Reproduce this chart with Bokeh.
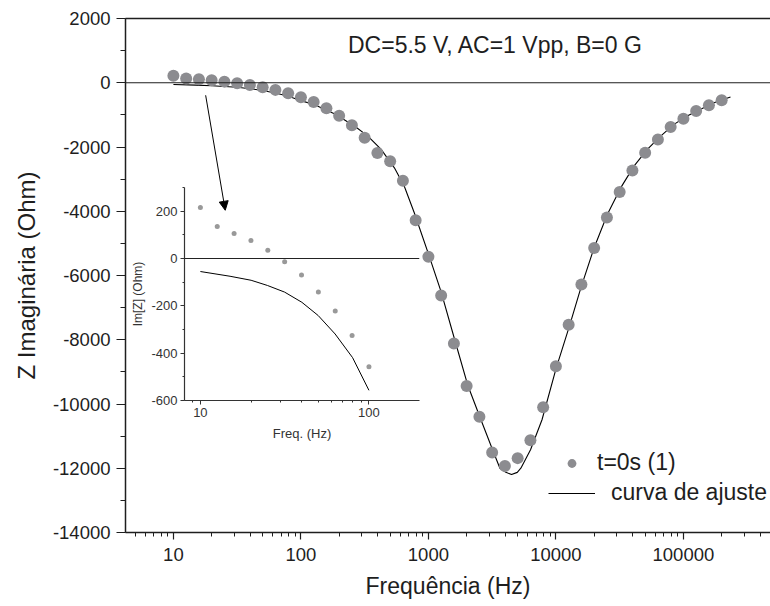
from bokeh.plotting import figure
from bokeh.models import (Range1d, Span, Label, Arrow, NormalHead, Legend, LegendItem,
                          LogAxis, FixedTicker, LogTicker, SingleIntervalTicker,
                          NumeralTickFormatter, Title)
from bokeh.embed import file_html
from bokeh.resources import INLINE

FONT = "Liberation Sans"
INK = "#1e1e1e"

# ---------------- data (main plot) ----------------
freq = [10, 12.59, 15.85, 19.95, 25.12, 31.62, 39.81, 50.12, 63.1, 79.43,
        100, 125.9, 158.5, 199.5, 251.2, 316.2, 398.1, 501.2, 631, 794.3,
        1000, 1259, 1585, 1995, 2512, 3162, 3981, 5012, 6310, 7943,
        10000, 12589, 15849, 19953, 25119, 31623, 39811, 50119, 63096, 79433,
        100000, 125893, 158489, 199526]
z_imag = [215, 135, 106, 76, 35, -14, -70, -142, -222, -325,
          -455, -599, -796, -1027, -1326, -1713, -2190, -2440, -3048, -4281,
          -5413, -6621, -8119, -9438, -10396, -11510, -11931, -11685, -11129, -10103,
          -8827, -7532, -6278, -5145, -4197, -3398, -2730, -2181, -1763, -1379,
          -1120, -880, -702, -546]

fit_freq = [10, 15, 20, 31.6, 40, 50, 63, 80, 100, 128,
            183, 263, 335, 426, 541, 647, 776, 1016, 1255, 1596,
            2032, 2582, 3186, 3637, 4053, 4487, 4977, 5309, 6324, 7781,
            10037, 12853, 15670, 19900, 25300, 32200, 40950, 52100, 66300, 84300,
            107000, 136500, 173500, 234000]
fit_z = [-55, -75, -92, -142, -185, -241, -319, -419, -557, -685,
         -964, -1348, -1660, -2075, -2649, -3220, -4053, -5404, -6496, -7953,
         -9407, -10490, -11426, -11999, -12128, -12197, -12128, -11999, -11426, -10490,
         -8889, -7535, -6393, -5145, -4103, -3273, -2596, -2075, -1660, -1295,
         -1036, -827, -621, -443]

main_yticks = [2000, 0, -2000, -4000, -6000, -8000, -10000, -12000, -14000]
main_ylabels = ["2000", "0", "-2000", "-4000", "-6000", "-8000", "-10000", "-12000", "-14000"]

# ---------------- data (inset) ----------------
inset_freq = [10, 12.59, 15.85, 19.95, 25.12, 31.62, 39.81, 50.12, 63.1, 79.43, 100]
inset_z = [215, 135, 106, 76, 35, -14, -70, -142, -222, -325, -457]
inset_fit_freq = [10, 15, 20, 25, 31.6, 40, 50, 63, 80, 100]
inset_fit_z = [-55, -75, -92, -114, -142, -185, -241, -319, -419, -557]

inset_xticks = [10, 100]
inset_xminor = [8, 9, 20, 30, 40, 50, 60, 70, 80, 90, 200]
inset_yticks = [200, 0, -200, -400, -600]
inset_ylabels = ["200", "0", "-200", "-400", "-600"]

annotation_text = "DC=5.5 V, AC=1 Vpp, B=0 G"
annotation_pos = (234, 1179)
arrow_start = (17.9, -390)
arrow_end = (25.5, -3969)

# ---------------- main figure ----------------
p = figure(width=770, height=606, x_axis_type="log",
           x_range=Range1d(4.21, 482000), y_range=Range1d(-14000, 2000),
           output_backend="svg", toolbar_location=None,
           min_border_left=124, min_border_right=0, min_border_top=18,
           min_border_bottom=74, background_fill_color="white",
           border_fill_color="white", outline_line_color=None)
p.title.visible = False
p.grid.visible = False

p.xaxis.ticker = LogTicker(num_minor_ticks=10)
p.xaxis.formatter = NumeralTickFormatter(format="0")
p.yaxis.ticker = SingleIntervalTicker(interval=2000, num_minor_ticks=2)
p.yaxis.major_label_overrides = dict(zip(main_yticks, main_ylabels))

for ax in (p.xaxis[0], p.yaxis[0]):
    ax.axis_line_color = INK
    ax.axis_line_width = 1.5
    ax.major_tick_line_color = INK
    ax.minor_tick_line_color = INK
    ax.major_tick_line_width = 1.2
    ax.minor_tick_line_width = 1.0
    ax.major_tick_in = 0
    ax.minor_tick_in = 0
    ax.major_label_text_font = FONT
    ax.major_label_text_font_size = "18.5px"
    ax.major_label_text_color = INK
p.yaxis.major_tick_out = 9
p.yaxis.minor_tick_out = 5
p.yaxis.major_label_standoff = 6
p.xaxis.major_tick_out = 7
p.xaxis.minor_tick_out = 4
p.xaxis.major_label_standoff = 8

# axis titles (placed with offsets as in the reference)
ytitle = Title(text="Z Imaginária (Ohm)", align="center", offset=-15, standoff=20,
               text_font=FONT, text_font_size="24px", text_font_style="normal",
               text_color=INK)
xtitle = Title(text="Frequência (Hz)", align="center", offset=5, standoff=14,
               text_font=FONT, text_font_size="23px", text_font_style="normal",
               text_color=INK)
p.add_layout(ytitle, "left")
p.add_layout(xtitle, "below")

top_axis = LogAxis(ticker=FixedTicker(ticks=[]), axis_line_color=INK, axis_line_width=1.5,
                   major_tick_line_color=None, minor_tick_line_color=None,
                   major_label_text_font_size="0px")
p.add_layout(top_axis, "above")

p.add_layout(Span(location=0, dimension="width", line_color=INK, line_width=1.2))

ln = p.line(fit_freq, fit_z, line_color="black", line_width=1.1)
sc = p.scatter(freq, z_imag, size=12, fill_color="#8c8c90", line_color=None)

p.add_layout(Arrow(end=NormalHead(size=9, fill_color="black", line_color="black"),
                   x_start=arrow_start[0], y_start=arrow_start[1],
                   x_end=arrow_end[0], y_end=arrow_end[1],
                   line_color="black", line_width=1))

p.add_layout(Label(x=annotation_pos[0], y=annotation_pos[1], text=annotation_text,
                   text_font=FONT, text_font_size="23px", text_color=INK,
                   text_baseline="middle", text_align="left"))

leg_common = dict(padding=0, margin=0, spacing=0, border_line_color=None,
                  background_fill_alpha=0, label_text_font=FONT,
                  label_text_font_size="23px", label_text_color=INK, glyph_width=47)
leg1 = Legend(items=[LegendItem(label="t=0s (1)", renderers=[sc])], location=(423, 56),
              glyph_height=22, label_height=22, label_standoff=2, **leg_common)
leg2 = Legend(items=[LegendItem(label="curva de ajuste", renderers=[ln])], location=(423, 26),
              glyph_height=24, label_height=24, label_standoff=16, **leg_common)
p.add_layout(leg1)
p.add_layout(leg2)

# ---------------- inset figure ----------------
inset = figure(width=296, height=263, x_axis_type="log",
               x_range=Range1d(8.05, 199.5), y_range=Range1d(-600, 300),
               output_backend="svg", toolbar_location=None,
               min_border_left=54, min_border_right=5, min_border_top=5,
               min_border_bottom=45, background_fill_alpha=0, border_fill_alpha=0,
               outline_line_color=None)
inset.title.visible = False
inset.grid.visible = False
inset.xaxis.ticker = FixedTicker(ticks=inset_xticks, minor_ticks=inset_xminor)
inset.xaxis.formatter = NumeralTickFormatter(format="0")
inset.yaxis.ticker = SingleIntervalTicker(interval=200, num_minor_ticks=2)
inset.yaxis.major_label_overrides = dict(zip(inset_yticks, inset_ylabels))
for ax in (inset.xaxis[0], inset.yaxis[0]):
    ax.axis_line_color = "#333333"
    ax.axis_line_width = 1.2
    ax.major_tick_line_color = "#333333"
    ax.minor_tick_line_color = "#333333"
    ax.major_tick_in = 0
    ax.minor_tick_in = 0
    ax.major_tick_out = 4
    ax.minor_tick_out = 2
    ax.major_label_text_font = FONT
    ax.major_label_text_font_size = "13px"
    ax.major_label_text_color = "#333333"
    ax.major_label_standoff = 3
    ax.axis_label_text_font = FONT
    ax.axis_label_text_font_style = "normal"
    ax.axis_label_text_color = "#333333"
inset.xaxis.axis_label = "Freq. (Hz)"
inset.xaxis.axis_label_text_font_size = "13px"
inset.xaxis.axis_label_standoff = 6
inset.yaxis.axis_label = "Im[Z] (Ohm)"
inset.yaxis.axis_label_text_font_size = "12px"
inset.yaxis.axis_label_standoff = 3

inset.add_layout(Span(location=0, dimension="width", line_color="#222222", line_width=1))
inset.line(inset_fit_freq, inset_fit_z, line_color="black", line_width=1)
inset.scatter(inset_freq, inset_z, size=5, fill_color="#999999", line_color=None)

inset.styles = {"position": "absolute", "left": "128px", "top": "182px", "z-index": "10"}

open("out.html", "w").write(file_html([p, inset], INLINE))
